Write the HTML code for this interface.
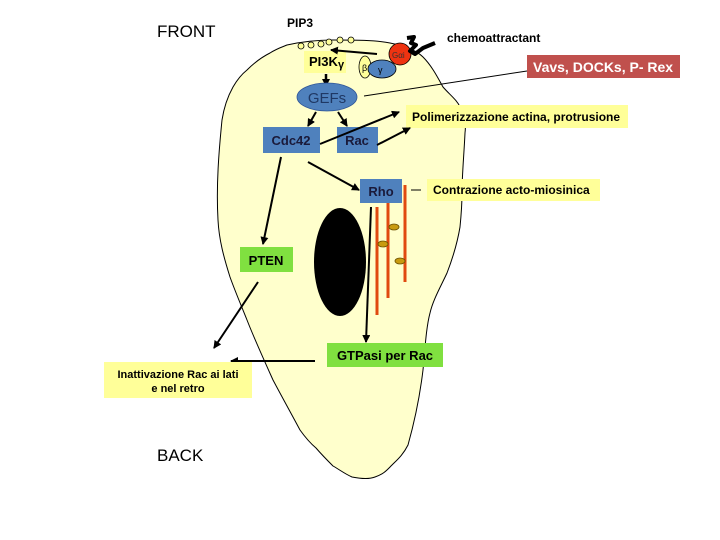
<!DOCTYPE html>
<html><head><meta charset="utf-8"><style>
body{margin:0;background:#fff;}
svg{display:block;font-family:"Liberation Sans",Arial,sans-serif;}
</style></head><body>
<svg width="720" height="540" viewBox="0 0 720 540" xmlns="http://www.w3.org/2000/svg">
<defs>
<marker id="a" markerWidth="8" markerHeight="8" refX="7" refY="4" orient="auto" markerUnits="userSpaceOnUse"><path d="M0,0 L8,4 L0,8 Z" fill="#000"/></marker>
</defs>
<path d="M287,45 C305,41 320,40 333,40 C355,40 375,40 390,43 C405,46 416,50 423,57 C432,66 438,78 443,87 C450,95 457,100 460,107 C465,115 466,125 465,133 C464,155 462,175 462,193 C462,205 461,217 460,227 C457,245 452,260 447,273 C440,288 433,300 430,313 C426,328 425,350 423,370 C420,395 415,420 408,445 C403,455 397,460 392,465 C387,470 384,474 375,477 C370,479 362,479 352,477 C345,474 340,470 333,466 C327,460 322,455 316,448 C310,443 305,437 300,430 C292,415 282,397 273,380 C264,360 254,338 247,320 C241,305 235,291 230,277 C224,258 219,240 218,220 C216,185 219,150 222,120 C224,107 228,96 233,87 C237,80 242,74 247,70 C254,63 262,57 270,53 C276,49 282,47 287,45 Z" fill="#ffffcc" stroke="#000" stroke-width="1"/>
<text x="157" y="37" font-size="17">FRONT</text>
<text x="157" y="461" font-size="17">BACK</text>
<text x="287" y="27" font-size="12" font-weight="bold">PIP3</text>
<text x="447" y="42" font-size="12" font-weight="bold">chemoattractant</text>
<g fill="#ffff99" stroke="#000" stroke-width="0.8">
<circle cx="301" cy="46" r="3"/><circle cx="311" cy="45" r="3"/><circle cx="321" cy="44" r="3"/><circle cx="329" cy="42" r="3"/><circle cx="340" cy="40" r="3"/><circle cx="351" cy="40" r="3"/>
</g>
<rect x="304" y="51" width="42" height="22" fill="#ffff99"/>
<text x="309" y="66" font-size="13" font-weight="bold">PI3K</text><text x="338" y="68" font-size="11" font-weight="bold">γ</text>
<line x1="377" y1="54" x2="331" y2="50" stroke="#000" stroke-width="2" marker-end="url(#a)"/>
<ellipse cx="365" cy="67" rx="6" ry="11" fill="#ffff99" stroke="#000" stroke-width="0.8"/>
<text x="362" y="71" font-size="9">β</text>
<ellipse cx="382" cy="69" rx="14" ry="9" fill="#4f81bd" stroke="#000" stroke-width="0.8"/>
<text x="378" y="73" font-size="9">γ</text>
<circle cx="400" cy="54" r="11" fill="#ee3311" stroke="#000" stroke-width="0.8"/>
<text x="392" y="58" font-size="8" fill="#333">Gαi</text>
<path d="M407,38 L414,37 L411,43 L416,45 L410,51 L415,54 L423,48 L435,43" fill="none" stroke="#000" stroke-width="4" stroke-linejoin="round"/>
<rect x="527" y="55" width="153" height="23" fill="#c0504d"/>
<text x="533" y="72" font-size="14" font-weight="bold" fill="#fff">Vavs, DOCKs, P- Rex</text>
<line x1="527" y1="71" x2="364" y2="96" stroke="#000" stroke-width="1"/>
<line x1="326" y1="74" x2="326" y2="86" stroke="#000" stroke-width="2.5" marker-end="url(#a)"/>
<ellipse cx="327" cy="97" rx="30" ry="14" fill="#4f81bd" stroke="#2f5597" stroke-width="0.8"/>
<text x="327" y="103" font-size="15" text-anchor="middle" fill="#1f3864">GEFs</text>
<rect x="406" y="105" width="222" height="23" fill="#ffff99"/>
<text x="412" y="121" font-size="12" font-weight="bold">Polimerizzazione actina, protrusione</text>
<line x1="316" y1="112" x2="308" y2="126" stroke="#000" stroke-width="2" marker-end="url(#a)"/>
<line x1="338" y1="112" x2="347" y2="126" stroke="#000" stroke-width="2" marker-end="url(#a)"/>
<rect x="263" y="127" width="57" height="26" fill="#4f81bd"/>
<text x="291" y="145" font-size="13" font-weight="bold" text-anchor="middle" fill="#1a1a3a">Cdc42</text>
<rect x="337" y="127" width="41" height="26" fill="#4f81bd"/>
<text x="357" y="145" font-size="13" font-weight="bold" text-anchor="middle" fill="#1a1a3a">Rac</text>
<line x1="320" y1="144" x2="399" y2="112" stroke="#000" stroke-width="2" marker-end="url(#a)"/>
<line x1="377" y1="145" x2="410" y2="128" stroke="#000" stroke-width="2" marker-end="url(#a)"/>
<line x1="308" y1="162" x2="359" y2="190" stroke="#000" stroke-width="2" marker-end="url(#a)"/>
<line x1="281" y1="157" x2="263" y2="244" stroke="#000" stroke-width="2" marker-end="url(#a)"/>
<rect x="360" y="179" width="42" height="24" fill="#4f81bd"/>
<text x="381" y="196" font-size="13" font-weight="bold" text-anchor="middle" fill="#1a1a3a">Rho</text>
<line x1="411" y1="190" x2="421" y2="190" stroke="#000" stroke-width="1"/>
<rect x="427" y="179" width="173" height="22" fill="#ffff99"/>
<text x="433" y="194" font-size="12" font-weight="bold">Contrazione acto-miosinica</text>
<ellipse cx="340" cy="262" rx="26" ry="54" fill="#000"/>
<g stroke="#e04a10" stroke-width="3">
<line x1="377" y1="207" x2="377" y2="315"/><line x1="388" y1="203" x2="388" y2="298"/><line x1="405" y1="185" x2="405" y2="282"/>
</g>
<g fill="#c89b10" stroke="#6b5000" stroke-width="0.8">
<ellipse cx="394" cy="227" rx="5" ry="3"/><ellipse cx="383" cy="244" rx="5" ry="3"/><ellipse cx="400" cy="261" rx="5" ry="3"/>
</g>
<line x1="371" y1="207" x2="366" y2="342" stroke="#000" stroke-width="2" marker-end="url(#a)"/>
<rect x="240" y="247" width="53" height="25" fill="#80e040"/>
<text x="266" y="265" font-size="13" font-weight="bold" text-anchor="middle">PTEN</text>
<rect x="327" y="343" width="116" height="24" fill="#80e040"/>
<text x="385" y="360" font-size="13" font-weight="bold" text-anchor="middle">GTPasi per Rac</text>
<line x1="258" y1="282" x2="214" y2="348" stroke="#000" stroke-width="2" marker-end="url(#a)"/>
<line x1="315" y1="361" x2="231" y2="361" stroke="#000" stroke-width="2" marker-end="url(#a)"/>
<rect x="104" y="362" width="148" height="36" fill="#ffff99"/>
<text x="178" y="378" font-size="11" font-weight="bold" text-anchor="middle">Inattivazione Rac ai lati</text>
<text x="178" y="392" font-size="11" font-weight="bold" text-anchor="middle">e nel retro</text>
</svg>
</body></html>
